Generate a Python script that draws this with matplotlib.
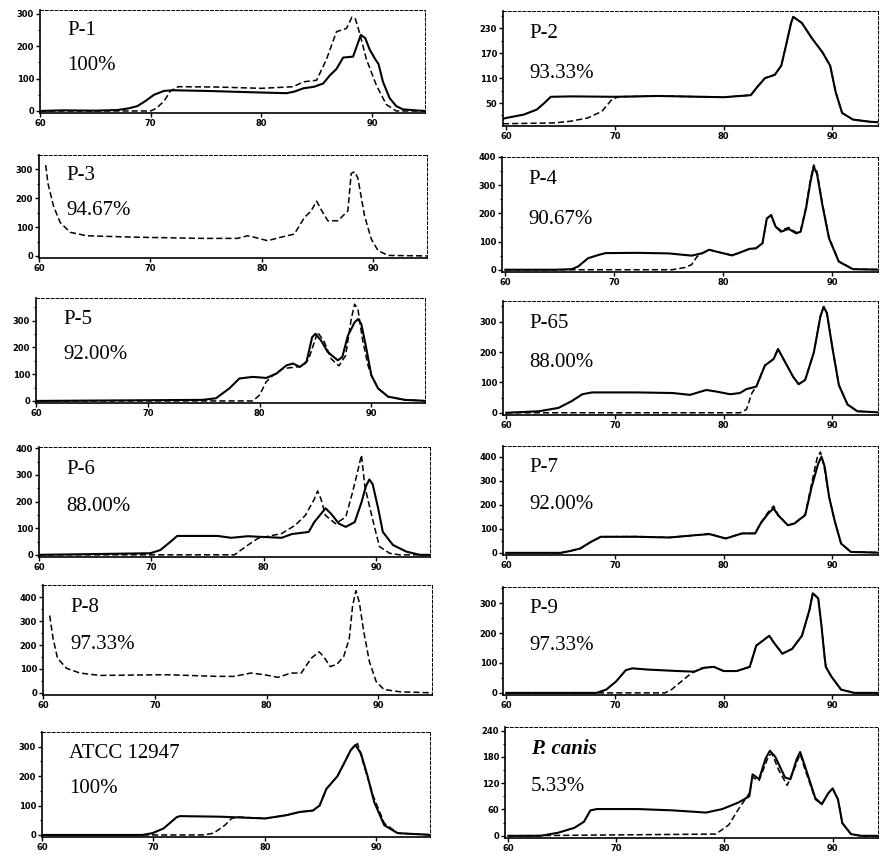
import matplotlib
matplotlib.use("Agg")
import matplotlib.pyplot as plt
from matplotlib.ticker import AutoMinorLocator

# panel order: row by row, left then right
LABELS = ["P-1", "P-2", "P-3", "P-4", "P-5", "P-65",
          "P-6", "P-7", "P-8", "P-9", "ATCC 12947", "P. canis"]
PERCENTS = ["100%", "93.33%", "94.67%", "90.67%", "92.00%", "88.00%",
            "88.00%", "92.00%", "97.33%", "97.33%", "100%", "5.33%"]
YTICKS = [[0, 100, 200, 300], [50, 110, 170, 230], [0, 100, 200, 300],
          [0, 100, 200, 300, 400], [0, 100, 200, 300], [0, 100, 200, 300],
          [0, 100, 200, 300, 400], [0, 100, 200, 300, 400], [0, 100, 200, 300, 400],
          [0, 100, 200, 300], [0, 100, 200, 300], [0, 60, 120, 180, 240]]
YMAX = [312, 272, 350, 400, 385, 368, 405, 445, 452, 354, 350, 248]
XTICKS = [60, 70, 80, 90]

P1_SOLID = [(60, 0), (62, 2), (65, 1), (67, 3), (68, 8), (68.8, 15), (69.5, 30), (70.3, 50), (71.2, 62),
            (72, 64), (75, 62), (78, 59), (80, 57), (82.3, 55), (83, 60), (83.8, 70), (84.8, 75), (85.6, 85),
            (86.2, 110), (86.8, 130), (87.4, 165), (88.3, 168), (89.0, 235), (89.4, 225), (89.8, 190),
            (90.3, 160), (90.6, 145), (91.0, 90), (91.6, 40), (92.2, 15), (92.8, 5), (94.3, 1), (95, 0)]
P1_DASHED = [(60, 0), (70, 0), (70.5, 8), (71.2, 30), (71.8, 62), (72.5, 75), (76, 74), (80, 70), (82.9, 75),
             (83.8, 90), (85, 95), (85.9, 160), (86.8, 245), (87.7, 255), (88.2, 290), (88.5, 285), (88.9, 240),
             (89.5, 160), (90.4, 80), (91.3, 20), (92.2, 0), (95, 0)]
P2_SOLID = [(59.7, 12), (60, 14), (61.6, 22), (62.8, 34), (63.5, 50), (64.1, 65), (66, 66), (70, 65), (74, 67),
            (78, 65), (80, 64), (82.5, 69), (83.1, 89), (83.8, 110), (84.7, 118), (85.3, 140), (85.8, 196),
            (86.2, 243), (86.4, 258), (87.2, 243), (88.1, 207), (89.1, 172), (89.8, 140), (90.3, 77),
            (90.9, 26), (91.9, 10), (93.4, 5), (95, 2)]
P2_DASHED = [(59.7, 0), (64.4, 2), (65.9, 6), (67.5, 14), (68.8, 30), (69.7, 58), (70.3, 65), (74, 67), (78, 65),
             (80, 64), (82.5, 69), (83.1, 89), (83.8, 110), (84.7, 118), (85.3, 140), (85.8, 196), (86.2, 243),
             (86.4, 258), (87.2, 243), (88.1, 207), (89.1, 172), (89.8, 140), (90.3, 77), (90.9, 26),
             (91.9, 10), (93.4, 5), (95, 2)]
P3_SOLID = []
P3_DASHED = [(60.6, 315), (60.8, 252), (61.3, 173), (61.9, 116), (62.8, 82), (64.3, 70), (68.8, 65), (74.8, 61),
             (77.8, 61), (78.7, 70), (79.3, 65), (80.5, 53), (81.7, 65), (82.9, 76), (83.8, 133), (84.4, 156),
             (84.9, 190), (85.3, 161), (85.9, 122), (86.8, 122), (87.7, 156), (88.0, 286), (88.3, 292),
             (88.6, 270), (89.2, 139), (89.8, 59), (90.4, 19), (91.3, 2), (95, 0)]
P4_SOLID = [(60, 0), (64.6, 0), (66.1, 2), (66.7, 12), (67.6, 41), (68.6, 53), (69.2, 59), (72, 60), (75, 58),
            (77.1, 50), (78.1, 59), (78.7, 71), (79.3, 65), (80.8, 51), (81.4, 59), (82.4, 74), (83.0, 76),
            (83.6, 94), (84.0, 182), (84.4, 194), (84.8, 153), (85.3, 135), (86.0, 145), (86.7, 129),
            (87.1, 135), (87.6, 218), (88.0, 312), (88.3, 365), (88.6, 341), (89.1, 229), (89.7, 112),
            (90.6, 29), (91.9, 2), (95, 0)]
P4_DASHED = [(60, 0), (75.3, 0), (76.5, 8), (77.1, 18), (77.6, 47), (78.1, 59), (78.7, 71), (79.3, 65),
             (80.8, 51), (81.4, 59), (82.4, 74), (83.0, 76), (83.6, 94), (84.0, 182), (84.4, 194), (84.8, 153),
             (85.3, 140), (86.0, 150), (86.7, 132), (87.1, 138), (87.6, 225), (88.0, 320), (88.3, 372),
             (88.6, 348), (89.1, 235), (89.7, 115), (90.6, 30), (91.9, 2), (95, 0)]
P5_SOLID = [(60, 0), (74.9, 4), (76.1, 10), (77.3, 47), (78.2, 84), (79.4, 90), (80.6, 86), (81.5, 102),
            (82.4, 133), (83.0, 140), (83.6, 127), (84.2, 146), (84.7, 238), (85.0, 251), (85.5, 226),
            (86.1, 183), (87.0, 152), (87.4, 164), (87.9, 244), (88.5, 294), (88.8, 306), (89.1, 288),
            (89.5, 207), (90.0, 96), (90.6, 47), (91.5, 16), (93.0, 4), (95, 0)]
P5_DASHED = [(60, 0), (79.4, 0), (80.0, 22), (80.6, 72), (81.2, 96), (82.1, 121), (83.3, 127), (83.9, 131),
             (84.4, 158), (85.2, 257), (85.8, 220), (86.4, 158), (87.1, 131), (87.7, 170), (88.2, 306),
             (88.5, 362), (88.8, 343), (89.2, 232), (89.7, 133), (90.0, 96), (90.6, 47), (91.5, 16),
             (93.0, 4), (95, 0)]
P65_SOLID = [(60, 0), (63, 5), (64.8, 16), (66.0, 38), (67.0, 61), (67.9, 67), (72, 67), (75.3, 65), (76.9, 59),
             (78.4, 75), (79.3, 70), (80.6, 61), (81.5, 65), (82.1, 78), (83.0, 86), (83.8, 156), (84.6, 177),
             (85.0, 210), (85.5, 177), (86.4, 118), (86.9, 94), (87.5, 108), (88.3, 199), (88.9, 317),
             (89.2, 349), (89.5, 328), (90.0, 215), (90.6, 91), (91.4, 27), (92.3, 5), (95, 0)]
P65_DASHED = [(60, 0), (81.5, 0), (82.1, 11), (82.6, 65), (83.0, 86), (83.8, 156), (84.6, 177), (85.0, 210),
              (85.5, 177), (86.4, 118), (86.9, 94), (87.5, 108), (88.3, 199), (88.9, 317), (89.2, 349),
              (89.5, 328), (90.0, 215), (90.6, 91), (91.4, 27), (92.3, 5), (95, 0)]
P6_SOLID = [(60, 0), (69.9, 6), (70.8, 18), (71.7, 49), (72.3, 71), (75.9, 71), (77.1, 64), (78.6, 70),
            (79.5, 68), (81.6, 64), (82.5, 78), (84.0, 86), (84.5, 123), (85.1, 154), (85.5, 175), (86.0, 154),
            (86.7, 117), (87.3, 105), (88.1, 123), (88.7, 197), (89.1, 258), (89.4, 283), (89.7, 265),
            (90.2, 172), (90.6, 86), (91.5, 37), (92.7, 12), (93.9, 0), (95, 0)]
P6_DASHED = [(60, 0), (77.4, 0), (78.6, 37), (79.5, 62), (81.6, 80), (82.8, 111), (83.7, 148), (84.5, 209),
             (84.8, 240), (85.1, 209), (85.5, 148), (86.4, 117), (87.3, 142), (87.9, 234), (88.4, 320),
             (88.7, 375), (89.0, 258), (89.4, 185), (89.9, 98), (90.3, 31), (91.2, 6), (92.1, 0), (95, 0)]
P7_SOLID = [(60, 0), (65, 0), (65.9, 8), (66.8, 18), (67.8, 46), (68.7, 67), (72, 67), (75.0, 64), (77.5, 74),
            (78.7, 78), (79.6, 67), (80.2, 60), (81.7, 81), (82.9, 81), (83.4, 122), (84.1, 164), (84.6, 185),
            (85.0, 157), (85.9, 115), (86.5, 122), (87.5, 157), (88.1, 275), (88.7, 372), (89.0, 400),
            (89.3, 358), (89.7, 233), (90.2, 136), (90.8, 39), (91.7, 4), (95, 0)]
P7_DASHED = [(60, 0), (65, 0), (65.9, 8), (66.8, 18), (67.8, 46), (68.7, 67), (72, 68), (75.0, 64), (77.5, 74),
             (78.7, 80), (79.6, 67), (80.2, 60), (81.7, 81), (82.9, 81), (83.4, 125), (84.1, 170), (84.6, 195),
             (85.0, 160), (85.9, 115), (86.5, 122), (87.5, 160), (88.1, 290), (88.6, 395), (88.9, 420),
             (89.2, 370), (89.7, 233), (90.2, 136), (90.8, 39), (91.7, 4), (95, 0)]
P8_SOLID = []
P8_DASHED = [(60.6, 324), (60.9, 228), (61.3, 145), (62.1, 103), (63.3, 83), (65.1, 73), (71.1, 76), (75.6, 69),
             (77.1, 69), (78.6, 83), (79.8, 76), (81.0, 65), (82.2, 83), (83.1, 83), (84.0, 145), (84.7, 172),
             (85.1, 152), (85.7, 110), (86.3, 120), (86.9, 152), (87.4, 228), (87.7, 366), (88.0, 428),
             (88.3, 379), (88.7, 255), (89.2, 131), (89.8, 48), (90.5, 14), (92.0, 4), (95, 0)]
P9_SOLID = [(60, 0), (68.3, 0), (69.2, 11), (70.1, 38), (71.0, 76), (71.6, 82), (73, 78), (75.8, 73), (77.3, 71),
            (78.2, 84), (79.1, 87), (80.0, 73), (81.2, 73), (82.4, 87), (83.0, 158), (84.2, 191), (84.6, 169),
            (85.4, 131), (86.3, 147), (87.2, 191), (87.9, 278), (88.2, 333), (88.7, 316), (89.0, 224),
            (89.3, 115), (89.4, 87), (89.9, 55), (90.8, 11), (92.0, 0), (95, 0)]
P9_DASHED = [(60, 0), (74.6, 0), (75.2, 11), (76.1, 38), (77.0, 65), (77.9, 82), (78.2, 84), (79.1, 87),
             (80.0, 73), (81.2, 73), (82.4, 87), (83.0, 158), (84.2, 191), (84.6, 169), (85.4, 131), (86.3, 147),
             (87.2, 191), (87.9, 278), (88.2, 333), (88.7, 316), (89.0, 224), (89.3, 115), (89.4, 87),
             (89.9, 55), (90.8, 11), (92.0, 0), (95, 0)]
ATCC_SOLID = [(60, 0), (69.0, 0), (69.9, 6), (70.9, 22), (72.1, 61), (72.4, 64), (76, 62), (80.0, 56),
              (81.9, 67), (83.1, 78), (84.3, 83), (84.9, 100), (85.5, 156), (86.5, 200), (87.1, 244),
              (87.7, 289), (88.1, 306), (88.6, 278), (89.2, 200), (89.8, 111), (90.7, 33), (91.9, 6), (95, 0)]
ATCC_DASHED = [(60, 0), (74.5, 0), (75.4, 6), (76.4, 33), (77.0, 56), (77.6, 61), (80.0, 56), (81.9, 67),
               (83.1, 78), (84.3, 83), (84.9, 100), (85.5, 156), (86.5, 200), (87.1, 244), (87.7, 289),
               (88.3, 311), (88.9, 233), (89.7, 133), (90.7, 40), (91.9, 6), (95, 0)]
CANIS_SOLID = [(60, 0), (63.0, 0), (64.6, 7), (66.1, 18), (67.0, 32), (67.6, 58), (68.2, 61), (72, 61),
               (75.2, 58), (78.3, 53), (79.8, 61), (81.3, 76), (82.3, 90), (82.6, 140), (83.2, 129), (83.8, 176),
               (84.2, 194), (84.7, 180), (85.6, 133), (86.1, 129), (86.7, 176), (87.0, 191), (87.4, 162),
               (88.4, 86), (89.0, 72), (89.6, 97), (90.0, 108), (90.5, 83), (90.9, 29), (91.7, 4), (92.6, 0),
               (95, 0)]
CANIS_DASHED = [(60, 0), (79.2, 4), (80.4, 25), (81.3, 61), (82.3, 97), (82.6, 133), (83.2, 126), (84.1, 183),
                (84.4, 187), (85.0, 151), (85.8, 115), (86.5, 155), (87.0, 187), (87.4, 155), (88.4, 83),
                (89.0, 72), (89.6, 97), (90.0, 108), (90.5, 83), (90.9, 29), (91.7, 4), (92.6, 0), (95, 0)]

SOLID = [P1_SOLID, P2_SOLID, P3_SOLID, P4_SOLID, P5_SOLID, P65_SOLID,
         P6_SOLID, P7_SOLID, P8_SOLID, P9_SOLID, ATCC_SOLID, CANIS_SOLID]
DASHED = [P1_DASHED, P2_DASHED, P3_DASHED, P4_DASHED, P5_DASHED, P65_DASHED,
          P6_DASHED, P7_DASHED, P8_DASHED, P9_DASHED, ATCC_DASHED, CANIS_DASHED]

# layout in pixels: (left, top, right, bottom) of each axes box
BOXES = [(40, 10, 425, 113), (503, 11, 878, 126),
         (39, 155, 427, 258), (502, 157, 878, 272),
         (36, 298, 425, 403), (503, 301, 878, 415),
         (39, 447, 430, 557), (503, 446, 878, 555),
         (43, 585, 432, 695), (503, 587, 878, 695),
         (42, 732, 430, 837), (505, 727, 878, 838)]
W, H = 880, 856

fig = plt.figure(figsize=(W / 100, H / 100), dpi=100)
for i, (l, t, r, b) in enumerate(BOXES):
    ax = fig.add_axes([l / W, 1 - b / H, (r - l) / W, (b - t) / H])
    right_col = i % 2 == 1
    ax.set_xlim(59.7 if right_col else 60, 94.2 if right_col else 94.8)
    ax.set_ylim(-0.02 * YMAX[i], YMAX[i])
    if DASHED[i]:
        xs, ys = zip(*DASHED[i])
        ax.plot(xs, ys, color="black", lw=1.1, ls=(0, (4, 2)))
    if SOLID[i]:
        xs, ys = zip(*SOLID[i])
        ax.plot(xs, ys, color="black", lw=1.5)
    ax.set_xticks(XTICKS)
    ax.set_yticks(YTICKS[i])
    ax.yaxis.set_minor_locator(AutoMinorLocator(2))
    ax.tick_params(labelsize=6, length=3, width=1, pad=1.2)
    ax.tick_params(which="minor", length=1.5, width=0.8)
    for lab in ax.get_xticklabels() + ax.get_yticklabels():
        lab.set_fontweight("bold")
    for side in ("top", "right"):
        ax.spines[side].set_linestyle((0, (3, 2)))
        ax.spines[side].set_linewidth(0.7)
    for side in ("left", "bottom"):
        ax.spines[side].set_linewidth(1.2)
    style = "italic" if LABELS[i].startswith("P. ") else "normal"
    weight = "bold" if LABELS[i].startswith("P. ") else "normal"
    ax.text(0.07, 0.8, LABELS[i], transform=ax.transAxes, fontsize=15, family="Liberation Serif",
            style=style, weight=weight, va="center", ha="left")
    ax.text(0.07, 0.46, PERCENTS[i], transform=ax.transAxes, fontsize=15, family="Liberation Serif",
            va="center", ha="left")

fig.savefig("out.png", dpi=100)
